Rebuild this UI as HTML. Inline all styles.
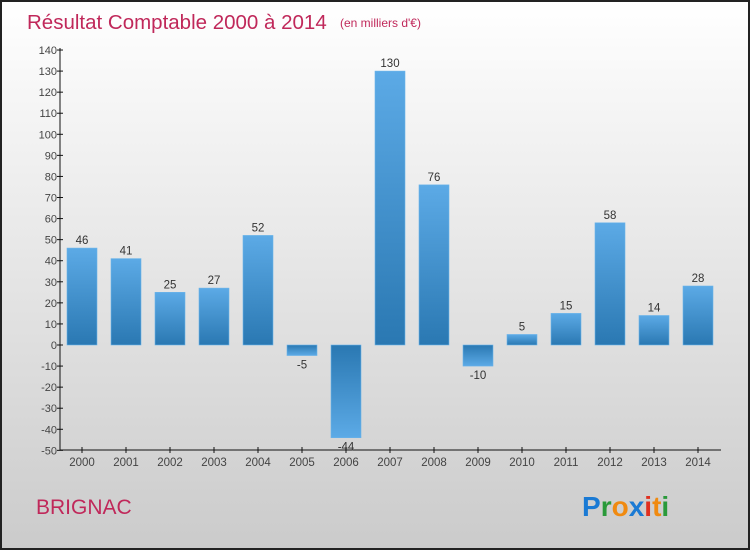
<!DOCTYPE html>
<html><head><meta charset="utf-8"><style>
body{margin:0;width:750px;height:550px;overflow:hidden;font-family:"Liberation Sans",sans-serif}
</style></head><body>
<svg width="750" height="550" viewBox="0 0 750 550">
<defs>
<linearGradient id="bg" x1="0" y1="0" x2="0" y2="1"><stop offset="0" stop-color="#ffffff"/><stop offset="1" stop-color="#cbcbcb"/></linearGradient>
<linearGradient id="gp" x1="0" y1="0" x2="0" y2="1"><stop offset="0" stop-color="#5caae6"/><stop offset="1" stop-color="#2a78b2"/></linearGradient>
<linearGradient id="gn" x1="0" y1="0" x2="0" y2="1"><stop offset="0" stop-color="#2a78b2"/><stop offset="1" stop-color="#5caae6"/></linearGradient>
</defs>
<rect x="1" y="1" width="748" height="548" fill="url(#bg)" stroke="#222" stroke-width="2"/>
<text x="27" y="29" font-size="20.5" fill="#c0285a">Résultat Comptable 2000 à 2014</text>
<text x="340" y="27" font-size="12" fill="#c0285a">(en milliers d'€)</text>
<g id="plot"></g>
<text x="36" y="514" font-size="21" fill="#c0285a">BRIGNAC</text>
<g font-size="28" font-weight="bold" font-family="'Liberation Sans',sans-serif">
<text x="582" y="516"><tspan fill="#1a7ad4">P</tspan><tspan fill="#2a9a3a">r</tspan><tspan fill="#f08a10">o</tspan><tspan fill="#1a7ad4">x</tspan><tspan fill="#e03020">i</tspan><tspan fill="#f08a10">t</tspan><tspan fill="#2a9a3a">i</tspan></text>
</g>
</svg>
<script>
const years=["2000","2001","2002","2003","2004","2005","2006","2007","2008","2009","2010","2011","2012","2013","2014"];
const values=[46,41,25,27,52,-5,-44,130,76,-10,5,15,58,14,28];
const yTicks=[-50,-40,-30,-20,-10,0,10,20,30,40,50,60,70,80,90,100,110,120,130,140];
const ns="http://www.w3.org/2000/svg";
const g=document.getElementById('plot');
const y=v=>345-v*2.107;
const x=i=>82+i*44;
function mk(t,a){const e=document.createElementNS(ns,t);for(const k in a)e.setAttribute(k,a[k]);g.appendChild(e);return e;}
const ax=mk('line',{x1:60,y1:y(140)-2,x2:60,y2:450,stroke:'#111','stroke-width':1});


const bx=mk('line',{x1:60,y1:450,x2:721,y2:450,stroke:'#111','stroke-width':1});


yTicks.forEach(t=>{
 const l=mk('line',{x1:57,x2:63,y1:y(t),y2:y(t),stroke:'#111'});
 
 
 const tx=mk('text',{x:57,y:y(t)+4,'font-size':11,fill:'#444','text-anchor':'end'});
 tx.textContent=t;
 
 
});
years.forEach((yr,i)=>{
 const v=values[i];
 const top=Math.min(y(v),y(0)),h=Math.abs(y(v)-y(0));
 const r=mk('rect',{x:x(i)-15,y:top,width:30,height:h,fill:v>=0?'url(#gp)':'url(#gn)',stroke:'#6ab4ea','stroke-width':0.6});
 
 
 const lb=mk('text',{x:x(i),y:v>=0?y(v)-4:y(v)+13,'font-size':11.5,fill:'#333','text-anchor':'middle'});
 lb.textContent=v;
 
 
 const tk=mk('line',{x1:x(i),x2:x(i),y1:447,y2:453,stroke:'#111'});
 
 
 const xl=mk('text',{x:x(i),y:466,'font-size':11.5,fill:'#444','text-anchor':'middle'});
 xl.textContent=yr;
 
 
});
</script>
</body></html>
